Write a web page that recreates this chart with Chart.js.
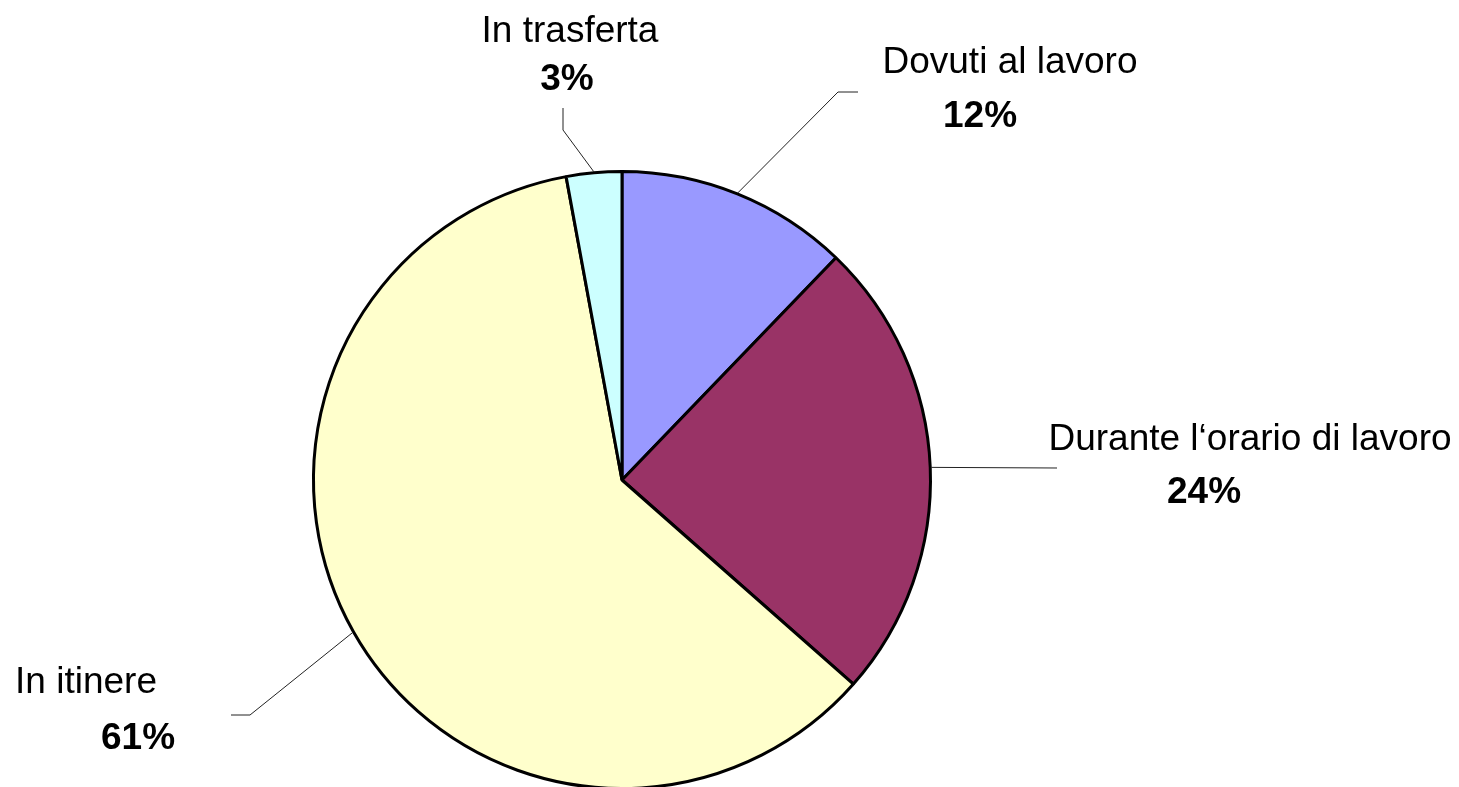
<!DOCTYPE html>
<html>
<head>
<meta charset="utf-8">
<title>Infortuni</title>
<script src="https://cdn.jsdelivr.net/npm/chart.js@4/dist/chart.umd.min.js"></script>
<style>
  html, body { margin: 0; padding: 0; background: #fff; overflow: hidden; }
  #chart { display: block; }
</style>
</head>
<body>
<canvas id="chart" width="1459" height="800"></canvas>
<script>
// ---- Data ----
const categories = ["Dovuti al lavoro", "Durante l\u2018orario di lavoro", "In itinere", "In trasferta"];
const shares = [12.2, 24.3, 60.6, 2.9];
const sliceColors = ["#9999FF", "#993366", "#FFFFCC", "#CCFFFF"];

// ---- Label layout (leader line bends + text anchors, in px) ----
const labelLayout = [
  { path: [[838, 92], [858, 92]], name: [1010, 73], pct: [980, 127] },
  { path: [[1057, 468]], name: [1250, 450], pct: [1204, 503] },
  { path: [[250, 715], [231, 715]], name: [86, 693], pct: [138, 749] },
  { path: [[563, 130], [563, 108]], name: [570, 42], pct: [567, 90] }
];

const FONT = '"Liberation Sans", Arial, sans-serif';

function formatPercent(v, total) {
  return Math.round(v / total * 100) + "%";
}

// Draws Excel-style labels with leader lines
const pieLabels = {
  id: "pieLabels",
  afterDraw(chart) {
    const ctx = chart.ctx;
    const arcs = chart.getDatasetMeta(0).data;
    const total = shares.reduce((a, b) => a + b, 0);
    ctx.save();
    arcs.forEach((arc, i) => {
      const lay = labelLayout[i];
      const mid = (arc.startAngle + arc.endAngle) / 2;
      const sx = arc.x + Math.cos(mid) * (arc.outerRadius + 1);
      const sy = arc.y + Math.sin(mid) * (arc.outerRadius + 1);

      ctx.beginPath();
      ctx.moveTo(sx, sy);
      lay.path.forEach(p => ctx.lineTo(p[0], p[1]));
      ctx.strokeStyle = "#222";
      ctx.lineWidth = 1;
      ctx.stroke();

      ctx.fillStyle = "#000";
      ctx.textAlign = "center";
      ctx.textBaseline = "alphabetic";
      ctx.font = "37px " + FONT;
      ctx.fillText(categories[i], lay.name[0], lay.name[1]);
      ctx.font = "bold 37px " + FONT;
      ctx.fillText(formatPercent(shares[i], total), lay.pct[0], lay.pct[1]);
    });
    ctx.restore();
  }
};

new Chart(document.getElementById("chart").getContext("2d"), {
  type: "pie",
  data: {
    labels: categories,
    datasets: [{
      data: shares,
      backgroundColor: sliceColors,
      borderColor: "#000",
      borderWidth: 3
    }]
  },
  options: {
    responsive: false,
    animation: false,
    layout: { padding: { left: 312, right: 527, top: 170, bottom: 10 } },
    plugins: {
      legend: { display: false },
      tooltip: { enabled: false }
    }
  },
  plugins: [pieLabels]
});
</script>
</body>
</html>
